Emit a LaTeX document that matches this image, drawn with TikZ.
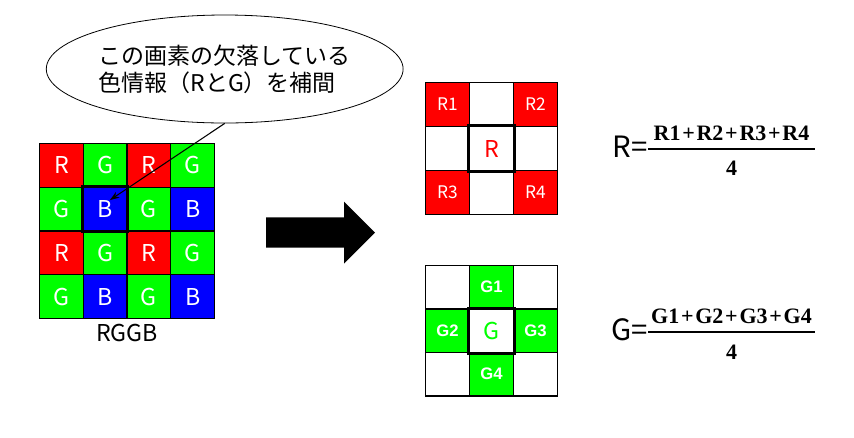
\documentclass[tikz,border=0pt]{standalone}
\usepackage{fontspec}
\setmainfont{Noto Sans CJK JP}
\newfontfamily\serifnum{Liberation Serif}
\newfontfamily\boldsans{Liberation Sans}
\usetikzlibrary{shapes.geometric,arrows.meta}
\definecolor{pr}{RGB}{255,0,0}
\definecolor{pg}{RGB}{0,255,0}
\definecolor{pb}{RGB}{0,0,255}
\newcommand{\pl}{\hspace{0.08em}+\hspace{0.08em}}
\begin{document}
\begin{tikzpicture}[x=0.75pt,y=-0.75pt,
  cell/.style={draw=black, line width=0.8pt, minimum width=32.8125pt, minimum height=32.8125pt, inner sep=0pt, text=white, font=\fontsize{17.4}{20}\selectfont},
  rcell/.style={draw=black, line width=0.8pt, minimum width=33pt, minimum height=33pt, inner sep=0pt, text=white, font=\fontsize{13}{15}\selectfont},
  gcell/.style={rcell, minimum height=32.625pt, font=\boldsans\bfseries\fontsize{12.5}{15}\selectfont},
  hl/.style={line width=2.25pt},
  big/.style={font=\fontsize{22}{26}\selectfont, inner sep=0pt},
  frac/.style={font=\serifnum\bfseries\fontsize{16.5}{19}\selectfont, inner sep=0pt},
  bar/.style={line width=1.5pt},
]
\useasboundingbox (0,0) rectangle (854,437);

% callout
\node[draw=black, line width=0.6pt, ellipse, minimum width=261.75pt, minimum height=81pt, inner sep=0pt,
      align=left, font=\fontsize{17.25}{20.25}\selectfont] (callout) at (224.7,69)
  {この画素の欠落している\\色情報（RとG）を補間};

% left bayer grid
\node[cell, fill=pr] (c11) at (61.375,165.375) {R};
\node[cell, fill=pg] (c12) at (105.125,165.375) {G};
\node[cell, fill=pr] (c13) at (148.875,165.375) {R};
\node[cell, fill=pg] (c14) at (192.625,165.375) {G};
\node[cell, fill=pg] (c21) at (61.375,209.125) {G};
\node[cell, fill=pb] (c22) at (105.125,209.125) {B};
\node[cell, fill=pg] (c23) at (148.875,209.125) {G};
\node[cell, fill=pb] (c24) at (192.625,209.125) {B};
\node[cell, fill=pr] (c31) at (61.375,252.875) {R};
\node[cell, fill=pg] (c32) at (105.125,252.875) {G};
\node[cell, fill=pr] (c33) at (148.875,252.875) {R};
\node[cell, fill=pg] (c34) at (192.625,252.875) {G};
\node[cell, fill=pg] (c41) at (61.375,296.625) {G};
\node[cell, fill=pb] (c42) at (105.125,296.625) {B};
\node[cell, fill=pg] (c43) at (148.875,296.625) {G};
\node[cell, fill=pb] (c44) at (192.625,296.625) {B};
\draw[hl] (c22.south west) rectangle (c22.north east);
\node[font=\fontsize{17.4}{20}\selectfont, inner sep=0pt] (lbl) at (127,333) {RGGB};

% pointer
\coordinate (ptip) at (110,200);
\draw[line width=0.8pt, -{Stealth[length=7pt,width=5pt]}] (callout.south) -- (ptip);

% big arrow
\fill[black] (266,217.3) -- (344,217.3) -- (344,201.7) -- (375,232.7) -- (344,263.5) -- (344,247.7) -- (266,247.7) -- cycle;

% R grid
\node[rcell, fill=pr] (r11) at (447.5,104.5) {R1};
\node[rcell, fill=white] (r12) at (491.5,104.5) {};
\node[rcell, fill=pr] (r13) at (535.5,104.5) {R2};
\node[rcell, fill=white] (r21) at (447.5,148.5) {};
\node[rcell, fill=white, text=pr, font=\fontsize{17.4}{20}\selectfont] (r22) at (491.5,148.5) {R};
\node[rcell, fill=white] (r23) at (535.5,148.5) {};
\node[rcell, fill=pr] (r31) at (447.5,192.5) {R3};
\node[rcell, fill=white] (r32) at (491.5,192.5) {};
\node[rcell, fill=pr] (r33) at (535.5,192.5) {R4};
\draw[hl] (r22.south west) rectangle (r22.north east);

% G grid
\node[gcell, fill=white] (g11) at (447.5,287.25) {};
\node[gcell, fill=pg] (g12) at (491.5,287.25) {G1};
\node[gcell, fill=white] (g13) at (535.5,287.25) {};
\node[gcell, fill=pg] (g21) at (447.5,330.75) {G2};
\node[gcell, fill=white, text=pg, font=\fontsize{17.4}{20}\selectfont] (g22) at (491.5,330.75) {G};
\node[gcell, fill=pg] (g23) at (535.5,330.75) {G3};
\node[gcell, fill=white] (g31) at (447.5,374.25) {};
\node[gcell, fill=pg] (g32) at (491.5,374.25) {G4};
\node[gcell, fill=white] (g33) at (535.5,374.25) {};
\draw[hl] (g22.south west) rectangle (g22.north east);

% R formula
\node[big, anchor=east] (rlhs) at (648,147) {R=};
\draw[bar] (648,149) -- (815,149);
\node[frac] (rnum) at (731.5,133) {R1\pl R2\pl R3\pl R4};
\node[frac] (rden) at (731.5,168) {4};

% G formula
\node[big, anchor=east] (glhs) at (648,330) {G=};
\draw[bar] (648,332.3) -- (815,332.3);
\node[frac] (gnum) at (731.5,316.7) {G1\pl G2\pl G3\pl G4};
\node[frac] (gden) at (731.5,352) {4};
\end{tikzpicture}
\end{document}
